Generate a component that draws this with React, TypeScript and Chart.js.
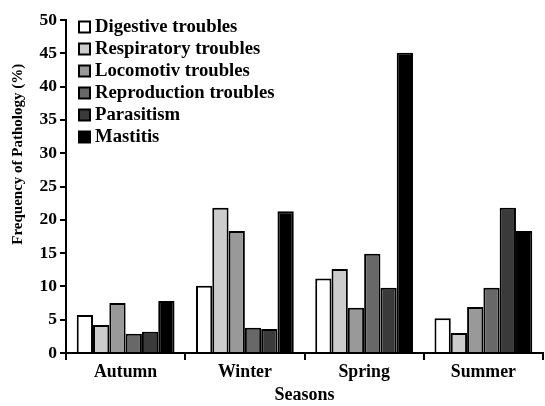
import React, { useEffect, useRef } from "react";
import { Chart, registerables } from "chart.js";

Chart.register(...registerables);

const seasons = ["Autumn", "Winter", "Spring", "Summer"];
const seriesNames = [
  "Digestive troubles",
  "Respiratory troubles",
  "Locomotiv troubles",
  "Reproduction troubles",
  "Parasitism",
  "Mastitis",
];
const digestive = [5.7, 10.1, 11.2, 5.2];
const respiratory = [4.2, 21.8, 12.6, 3.0];
const locomotiv = [7.5, 18.3, 6.8, 6.9];
const reproduction = [2.9, 3.8, 14.9, 9.8];
const parasitism = [3.2, 3.6, 9.8, 21.8];
const mastitis = [7.8, 21.3, 45.1, 18.3];
const yMin = 0;
const yMax = 50;
const yStep = 5;
const xTitle = "Seasons";
const yTitle = "Frequency of Pathology (%)";

const seriesValues = [digestive, respiratory, locomotiv, reproduction, parasitism, mastitis];
const seriesColors = ["#ffffff", "#cccccc", "#999999", "#686868", "#3a3a3a", "#000000"];

const FONT = '"Liberation Serif", "Times New Roman", serif';

const innerLegend = {
  id: "innerLegend",
  afterDraw(chart: any) {
    const ctx = chart.ctx;
    const area = chart.chartArea;
    const x0 = area.left + 13;
    const y0 = area.top + 6.5;
    const step = 22;
    ctx.save();
    ctx.font = `bold 18.7px ${FONT}`;
    ctx.textBaseline = "middle";
    ctx.textAlign = "left";
    chart.data.datasets.forEach((ds: any, i: number) => {
      const cy = y0 + i * step;
      ctx.fillStyle = ds.backgroundColor;
      ctx.fillRect(x0, cy - 5, 11, 11);
      ctx.strokeStyle = "#000";
      ctx.lineWidth = 2;
      ctx.strokeRect(x0, cy - 5, 11, 11);
      ctx.fillStyle = "#000";
      ctx.fillText(ds.label, x0 + 16, cy + 1);
    });
    ctx.restore();
  },
};

const yTitlePlugin = {
  id: "yTitlePlugin",
  afterDraw(chart: any) {
    const ctx = chart.ctx;
    const area = chart.chartArea;
    ctx.save();
    ctx.font = `bold 15px ${FONT}`;
    ctx.fillStyle = "#000";
    ctx.textAlign = "center";
    ctx.textBaseline = "middle";
    ctx.translate(18, area.top + (area.bottom - area.top) * 0.403);
    ctx.rotate(-Math.PI / 2);
    ctx.fillText(yTitle, 0, 0);
    ctx.restore();
  },
};

export default function App() {
  const ref = useRef<HTMLCanvasElement | null>(null);
  useEffect(() => {
    if (!ref.current) return;
    const chart = new Chart(ref.current, {
      type: "bar",
      data: {
        labels: seasons,
        datasets: seriesNames.map((name, i) => ({
          label: name,
          data: seriesValues[i],
          backgroundColor: seriesColors[i],
          borderColor: "#000000",
          borderWidth: 2,
          barPercentage: 1.0,
          categoryPercentage: 0.82,
        })),
      },
      options: {
        animation: false,
        responsive: false,
        maintainAspectRatio: false,
        layout: { padding: { left: 0, top: 20, right: 2, bottom: 0 } },
        plugins: {
          legend: { display: false },
          tooltip: { enabled: false },
        },
        scales: {
          x: {
            grid: {
              display: true,
              drawOnChartArea: false,
              drawTicks: true,
              tickLength: 7,
              color: "#000",
              lineWidth: 2,
              offset: true,
            },
            border: { display: true, color: "#000", width: 2 },
            ticks: {
              color: "#000",
              font: { family: FONT, size: 17.8, weight: "bold" },
              padding: 2,
            },
            title: {
              display: true,
              text: xTitle,
              color: "#000",
              font: { family: FONT, size: 18, weight: "bold" },
              padding: { top: 0, bottom: 0 },
            },
            afterFit: (s: any) => {
              s.height = 53;
            },
          },
          y: {
            min: yMin,
            max: yMax,
            ticks: {
              stepSize: yStep,
              color: "#000",
              font: { family: FONT, size: 17.5, weight: "bold" },
              padding: 3,
            },
            grid: {
              display: true,
              drawOnChartArea: false,
              drawTicks: true,
              tickLength: 6,
              color: "#000",
              lineWidth: 2,
            },
            border: { display: true, color: "#000", width: 2 },
            title: { display: false },
            afterFit: (s: any) => {
              s.width = 66;
            },
          },
        },
      },
      plugins: [innerLegend, yTitlePlugin],
    });
    return () => chart.destroy();
  }, []);
  return (
    <div style={{ position: "fixed", left: 0, top: 0, width: 545, height: 406, background: "#fff" }}>
      <canvas ref={ref} width={545} height={406} style={{ width: 545, height: 406 }} />
    </div>
  );
}
